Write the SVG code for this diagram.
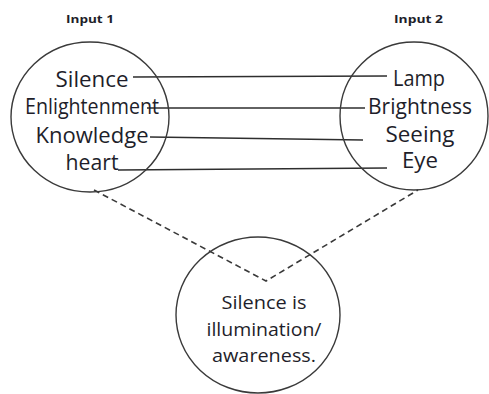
<svg xmlns="http://www.w3.org/2000/svg" width="489" height="394" viewBox="0 0 489 394">
  <style>
    .ring { fill: none; stroke: #3a3a3a; stroke-width: 1.4; }
    .link { fill: none; stroke: #2e2e2e; stroke-width: 1.4; }
    .dash { fill: none; stroke: #3a3a3a; stroke-width: 1.6; stroke-dasharray: 6 4; }
    .word { font-family: "Open Sans", "Liberation Sans", sans-serif; font-size: 21px; fill: #1e1e2a; text-anchor: middle; }
    .small { font-size: 18.5px; }
    .head { font-family: "Open Sans", "Liberation Sans", sans-serif; font-size: 11px; font-weight: bold; fill: #1e1e2a; }
  </style>
  <rect width="489" height="394" fill="#ffffff"/>

  <!-- connectors: term links and dashed merge lines -->
  <g id="connectors">
    <line class="link" x1="133" y1="77" x2="387" y2="76"/>
    <line class="link" x1="147" y1="108" x2="365" y2="108"/>
    <line class="link" x1="150" y1="137" x2="363" y2="140"/>
    <line class="link" x1="118" y1="170" x2="387" y2="168"/>
    <polyline class="dash" points="94,190 266,281 418,190"/>
  </g>

  <g id="input1">
    <text class="head" x="66" y="23" textLength="48" lengthAdjust="spacingAndGlyphs">Input 1</text>
    <ellipse class="ring" cx="90" cy="117" rx="79" ry="75"/>
    <text class="word" x="92" y="87" textLength="73" lengthAdjust="spacingAndGlyphs">Silence</text>
    <text class="word" x="92" y="114" textLength="134" lengthAdjust="spacingAndGlyphs">Enlightenment</text>
    <text class="word" x="92" y="143" textLength="113" lengthAdjust="spacingAndGlyphs">Knowledge</text>
    <text class="word" x="92" y="170" textLength="53" lengthAdjust="spacingAndGlyphs">heart</text>
  </g>

  <g id="input2">
    <text class="head" x="394" y="23" textLength="49" lengthAdjust="spacingAndGlyphs">Input 2</text>
    <ellipse class="ring" cx="414" cy="116" rx="74" ry="74"/>
    <text class="word" x="419" y="86" textLength="52" lengthAdjust="spacingAndGlyphs">Lamp</text>
    <text class="word" x="420" y="114" textLength="104" lengthAdjust="spacingAndGlyphs">Brightness</text>
    <text class="word" x="420" y="142" textLength="69" lengthAdjust="spacingAndGlyphs">Seeing</text>
    <text class="word" x="420" y="168" textLength="36" lengthAdjust="spacingAndGlyphs">Eye</text>
  </g>

  <g id="result">
    <ellipse class="ring" cx="258" cy="315" rx="82" ry="78"/>
    <text class="word small" x="264" y="309" textLength="85" lengthAdjust="spacingAndGlyphs">Silence is</text>
    <text class="word small" x="264" y="336" textLength="115" lengthAdjust="spacingAndGlyphs">illumination/</text>
    <text class="word small" x="264" y="362" textLength="104" lengthAdjust="spacingAndGlyphs">awareness.</text>
  </g>
</svg>
